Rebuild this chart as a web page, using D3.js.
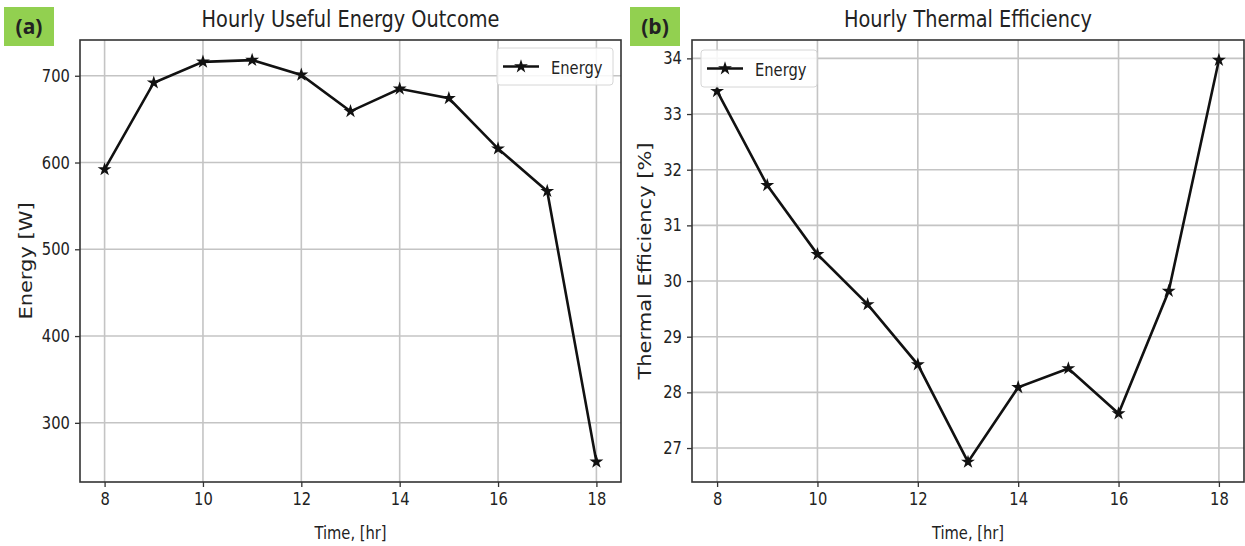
<!DOCTYPE html>
<html>
<head>
<meta charset="utf-8">
<script src="https://cdn.jsdelivr.net/npm/d3@7"></script>
<style>
  body { margin: 0; background: #fff; }
  text { font-family: "DejaVu Sans", sans-serif; fill: #222; }
</style>
</head>
<body>
<div id="chart"></div>
<script>
// Data
const hours = [8, 9, 10, 11, 12, 13, 14, 15, 16, 17, 18];
const energyValues = [592, 692, 716, 718, 701, 659, 685, 674, 616, 567, 255];
const efficiencyValues = [33.41, 31.72, 30.48, 29.58, 28.5, 26.75, 28.09, 28.43, 27.62, 29.82, 33.97];
const xTicks = [8, 10, 12, 14, 16, 18];
const energyTicks = [300, 400, 500, 600, 700];
const efficiencyTicks = [27, 28, 29, 30, 31, 32, 33, 34];

const W = 1245, H = 546;
const squeeze = 0.84; // the figure text is a bit narrow horizontally

const svg = d3.select('#chart').append('svg')
  .attr('width', W)
  .attr('height', H);

// text placed at (x,y) with horizontal squeeze
function label(parent, x, y, str, size, anchor) {
  return parent.append('text')
    .attr('transform', `translate(${x},${y}) scale(${squeeze},1)`)
    .attr('text-anchor', anchor || 'start')
    .style('font-size', size + 'px')
    .text(str);
}

// draws one panel
function panel(opt) {
  const x = d3.scaleLinear().domain([7.5, 18.5]).range([opt.left, opt.right]);
  const y = d3.scaleLinear().domain(opt.yDomain).range([opt.bottom, opt.top]);
  const g = svg.append('g');

  // grid
  g.selectAll('.vg').data(xTicks).join('line')
    .attr('x1', d => x(d)).attr('x2', d => x(d))
    .attr('y1', opt.top).attr('y2', opt.bottom)
    .attr('stroke', '#c4c4c4').attr('stroke-width', 1.6);
  g.selectAll('.hg').data(opt.yTicks).join('line')
    .attr('y1', d => y(d)).attr('y2', d => y(d))
    .attr('x1', opt.left).attr('x2', opt.right)
    .attr('stroke', '#c4c4c4').attr('stroke-width', 1.6);

  // axes
  const xAxis = g.append('g')
    .attr('transform', `translate(0,${opt.bottom})`)
    .call(d3.axisBottom(x).tickValues(xTicks).tickSize(5).tickPadding(6));
  const yAxis = g.append('g')
    .attr('transform', `translate(${opt.left},0)`)
    .call(d3.axisLeft(y).tickValues(opt.yTicks).tickSize(5).tickPadding(5));
  [xAxis, yAxis].forEach(a => {
    a.select('.domain').remove();
    a.selectAll('line').attr('stroke', '#333').attr('stroke-width', 1.3);
    a.selectAll('text')
      .style('font-size', '17.5px')
      .style('font-family', '"DejaVu Sans", sans-serif')
      .attr('fill', '#222')
      .attr('transform', `scale(${squeeze},1)`);
  });
  yAxis.selectAll('text').attr('x', -12);

  // frame
  g.append('rect')
    .attr('x', opt.left).attr('y', opt.top)
    .attr('width', opt.right - opt.left).attr('height', opt.bottom - opt.top)
    .attr('fill', 'none').attr('stroke', '#333').attr('stroke-width', 1.6);

  // line + markers
  const line = d3.line().x((d, i) => x(hours[i])).y(d => y(d));
  g.append('path').datum(opt.values)
    .attr('d', line)
    .attr('fill', 'none').attr('stroke', '#111').attr('stroke-width', 2.6);
  const star = d3.symbol().type(d3.symbolStar).size(60);
  g.selectAll('.pt').data(opt.values).join('path')
    .attr('d', star)
    .attr('transform', (d, i) => `translate(${x(hours[i])},${y(d)})`)
    .attr('fill', '#111');

  // title and labels
  label(svg, (opt.left + opt.right) / 2, 27, opt.title, 23, 'middle');
  label(svg, (opt.left + opt.right) / 2, 539, 'Time, [hr]', 17.5, 'middle');
  svg.append('text')
    .attr('transform', `translate(${opt.yLabelX},${(opt.top + opt.bottom) / 2}) rotate(-90) scale(1,${squeeze})`)
    .attr('text-anchor', 'middle').style('font-size', '21px')
    .text(opt.yLabel);

  // legend
  const lg = svg.append('g').attr('transform', `translate(${opt.legendX},${opt.legendY})`);
  lg.append('rect')
    .attr('width', 116).attr('height', 37).attr('rx', 3)
    .attr('fill', 'rgba(255,255,255,0.85)').attr('stroke', '#d6d6d6');
  lg.append('line')
    .attr('x1', 6).attr('x2', 42).attr('y1', 18.5).attr('y2', 18.5)
    .attr('stroke', '#111').attr('stroke-width', 2.6);
  lg.append('path').attr('d', star).attr('transform', 'translate(24,18.5)').attr('fill', '#111');
  label(lg, 54, 25.5, 'Energy', 17.5);

  // panel tag
  svg.append('rect')
    .attr('x', opt.tagX).attr('y', 7).attr('width', 50).attr('height', 39)
    .attr('fill', '#92d050');
  svg.append('text')
    .attr('x', opt.tagX + 25).attr('y', 34)
    .attr('text-anchor', 'middle')
    .style('font-family', '"Open Sans", sans-serif').style('font-weight', 'bold').style('font-size', '21px')
    .attr('fill', '#111')
    .text(opt.tag);
}

panel({
  left: 80, right: 621, top: 40, bottom: 482,
  yDomain: [231.8, 741.2], yTicks: energyTicks, values: energyValues,
  title: 'Hourly Useful Energy Outcome', yLabel: 'Energy [W]', yLabelX: 32,
  legendX: 497, legendY: 48, tag: '(a)', tagX: 4
});

panel({
  left: 692, right: 1244, top: 40, bottom: 482,
  yDomain: [26.39, 34.33], yTicks: efficiencyTicks, values: efficiencyValues,
  title: 'Hourly Thermal Efficiency', yLabel: 'Thermal Efficiency [%]', yLabelX: 651,
  legendX: 701, legendY: 50, tag: '(b)', tagX: 630
});
</script>
</body>
</html>
